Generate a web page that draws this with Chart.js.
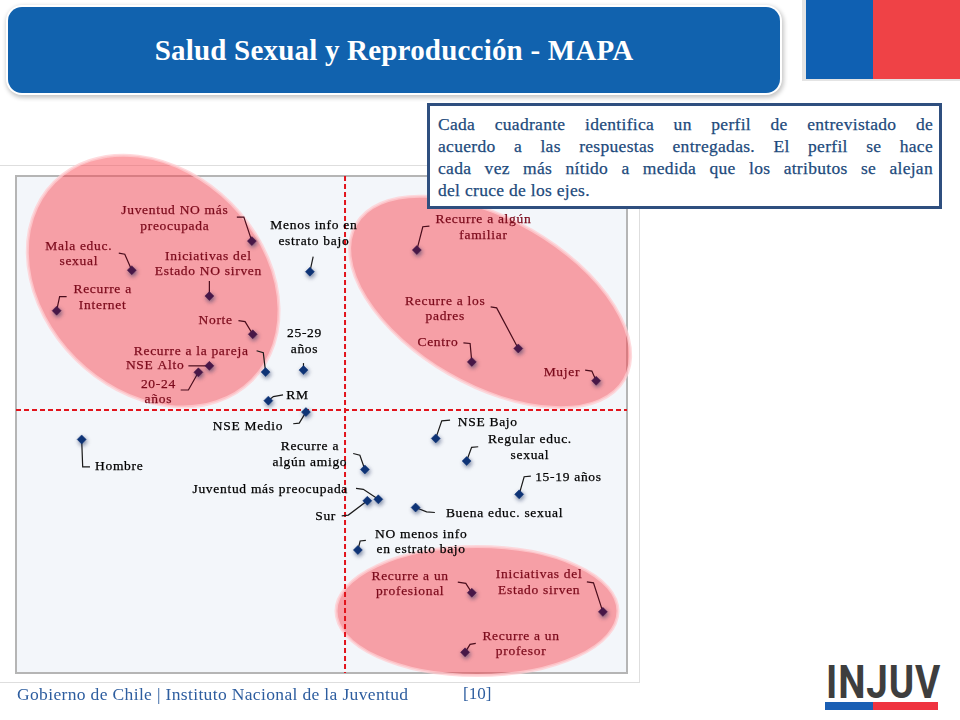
<!DOCTYPE html>
<html>
<head>
<meta charset="utf-8">
<script src="https://cdn.jsdelivr.net/npm/chart.js@4.4.1/dist/chart.umd.min.js"></script>
<style>
  html,body{margin:0;padding:0;background:#fff;width:960px;height:720px;overflow:hidden;position:relative;}
  #header{position:absolute;left:8px;top:7px;width:772px;height:86px;background:#1162ae;border-radius:14px;
    box-shadow:0 0 0 2px #fff, 1px 2px 4px 3px rgba(0,0,0,0.22);}
  #title{position:absolute;left:0;top:0;width:100%;height:100%;display:flex;align-items:center;justify-content:center;
    color:#fff;font-family:"Liberation Serif",serif;font-weight:bold;font-size:29px;letter-spacing:0.2px;}
  #flagGray{position:absolute;left:802px;top:0;width:158px;height:81px;background:#e4e4e4;}
  #flagBlue{position:absolute;left:806px;top:0;width:67px;height:79px;background:#0f60b2;}
  #flagRed{position:absolute;left:873px;top:0;width:87px;height:79px;background:#ef4246;}
  #frame{position:absolute;left:0;top:165px;width:639px;height:516px;border:1px solid #dedede;border-left:none;background:#fff;}
  #wrap{position:absolute;left:0;top:150px;width:640px;height:540px;}
  #note{position:absolute;left:427px;top:103px;width:509px;height:100px;border:3px solid #2f4f7f;background:#fff;
    box-sizing:content-box;z-index:5;}
  #note div{position:absolute;left:8px;width:495px;font-family:"Liberation Serif",serif;font-size:17.5px;color:#1d4a7c;
    text-align:justify;text-align-last:justify;white-space:nowrap;line-height:22px;letter-spacing:0.3px;
    -webkit-text-stroke:0.25px #1d4a7c;}
  #note div.last{text-align-last:left;}
  #footer{position:absolute;left:17px;top:684px;font-family:"Liberation Serif",serif;font-size:17.5px;color:#2d5d9f;letter-spacing:0.35px;}
  #page{position:absolute;left:463px;top:684px;font-family:"Liberation Serif",serif;font-size:17px;color:#2d5d9f;}
  #injuv{position:absolute;left:826px;top:659px;font-family:Roboto,"Liberation Sans",sans-serif;font-weight:bold;
    font-size:46px;color:#3e3e3e;transform:scaleX(0.84);transform-origin:left top;line-height:46px;letter-spacing:1px;}
  #barB{position:absolute;left:825px;top:702px;width:48px;height:8px;background:#1a5fb4;}
  #barR{position:absolute;left:873px;top:702px;width:65px;height:8px;background:#ef3340;}
</style>
</head>
<body>
<div id="header"><div id="title">Salud Sexual y Reproducción - MAPA</div></div>
<div id="flagGray"></div><div id="flagBlue"></div><div id="flagRed"></div>
<div id="frame"></div>
<div id="wrap"><canvas id="c" width="640" height="540"></canvas></div>
<div id="note">
  <div style="top:7px">Cada cuadrante identifica un perfil de entrevistado de</div>
  <div style="top:29px">acuerdo a las respuestas entregadas. El perfil se hace</div>
  <div style="top:51px">cada vez más nítido a medida que los atributos se alejan</div>
  <div class="last" style="top:73px">del cruce de los ejes.</div>
</div>
<div id="footer">Gobierno de Chile | Instituto Nacional de la Juventud</div>
<div id="page">[10]</div>
<div id="injuv">INJUV</div>
<div id="barB"></div><div id="barR"></div>
<script>
const categories = [
  "Juventud NO más\npreocupada",
  "Mala educ.\nsexual",
  "Iniciativas del\nEstado NO sirven",
  "Recurre a\nInternet",
  "Norte",
  "Recurre a la pareja",
  "NSE Alto",
  "20-24\naños",
  "25-29\naños",
  "RM",
  "Menos info en\nestrato bajo",
  "NSE Medio",
  "Hombre",
  "Recurre a algún\nfamiliar",
  "Recurre a los\npadres",
  "Centro",
  "Mujer",
  "NSE Bajo",
  "Regular educ.\nsexual",
  "Recurre a\nalgún amigo",
  "15-19 años",
  "Juventud más preocupada",
  "Sur",
  "Buena educ. sexual",
  "NO menos info\nen estrato bajo",
  "Recurre a un\nprofesional",
  "Iniciativas del\nEstado sirven",
  "Recurre a un\nprofesor"
];
const xValues = [-0.305,-0.698,-0.444,-0.944,-0.302,-0.260,-0.444,-0.480,-0.136,-0.251,-0.115,-0.128,-0.862,
                 0.235,0.567,0.415,0.822,0.297,0.398,0.065,0.570,0.109,0.073,0.231,0.042,0.415,0.844,0.393];
const yValues = [0.680,0.563,0.459,0.400,0.305,0.153,0.178,0.152,0.161,0.038,0.557,-0.008,-0.118,
                 0.644,0.248,0.194,0.118,-0.114,-0.205,-0.239,-0.339,-0.359,-0.365,-0.392,-0.563,-0.735,-0.812,-0.975];
const xRange = [-1.077, 0.923];
const yRange = [-1.058, 0.942];

// ---- label placement (pixel offsets relative to each point) ----
const labelLayout = [
  {dx:-77,dy:-22.5,al:'center',e:[-8,-24],t:[-15,-24]},
  {dx:-53,dy:-16,al:'center',e:[-7,-16],t:[-13,-17]},
  {dx:-1,dy:-32,al:'center',e:[0,-15],t:[0,-15]},
  {dx:46,dy:-13,al:'center',e:[3,-14],t:[10,-14]},
  {dx:-20,dy:-14,al:'right',e:[-7.7,-12.7],t:[-14.3,-13.7]},
  {dx:-17,dy:-21,al:'right',e:[-2.3,-19.3],t:[-9,-21.3]},
  {dx:-25,dy:0,al:'right',e:[-21,0],t:[-21,0]},
  {dx:-40,dy:19.5,al:'center',e:[-10,17.7],t:[-17.7,17.7]},
  {dx:1,dy:-28.5,al:'center',e:[0,-7],t:[0,-7]},
  {dx:18,dy:-5.5,al:'left',e:[5,-4],t:[14.7,-5.7]},
  {dx:4,dy:-38,al:'center',e:[3.3,-15],t:[3.3,-15]},
  {dx:-22.7,dy:14,al:'right',e:[-6.7,11],t:[-12.7,11.7]},
  {dx:13.3,dy:27.4,al:'left',e:[1,27.4],t:[8.3,27.4]},
  {dx:66.6,dy:-22.5,al:'center',e:[6,-23.3],t:[12.6,-24]},
  {dx:-73,dy:-39.5,al:'center',e:[-21.6,-40.6],t:[-27.6,-41.6]},
  {dx:-13.4,dy:-19,al:'right',e:[-1.7,-18.4],t:[-8.4,-19]},
  {dx:-16,dy:-8.7,al:'right',e:[-4.3,-9.7],t:[-11,-10.7]},
  {dx:22,dy:-16.3,al:'left',e:[6,-17.6],t:[14.3,-18.3]},
  {dx:63.3,dy:-13.5,al:'center',e:[5,-13.7],t:[11.6,-14.3]},
  {dx:-55,dy:-15,al:'center',e:[-5,-14.3],t:[-11.7,-16]},
  {dx:16,dy:-17,al:'left',e:[5,-17.6],t:[11.7,-18.3]},
  {dx:-30.3,dy:-10,al:'right',e:[-15,-10],t:[-22.3,-11]},
  {dx:-31.3,dy:15.5,al:'right',e:[-19,14.3],t:[-25.6,15]},
  {dx:30.3,dy:6,al:'left',e:[11,4.4],t:[19.3,5]},
  {dx:63.3,dy:-8,al:'center',e:[2.3,-9],t:[8,-9.7]},
  {dx:-61.7,dy:-9,al:'center',e:[-6,-9.4],t:[-14,-10.7]},
  {dx:-63.7,dy:-29.5,al:'center',e:[-9.4,-29],t:[-16,-30]},
  {dx:56,dy:-8.5,al:'center',e:[5,-8],t:[10.7,-9]}
];
// highlight zones: centre in data units, radii in px, rotation in degrees
const zones = [
  {cx:-0.628, cy:0.519, rx:140, ry:110, rot:45},
  {cx:0.475, cy:0.435, rx:155, ry:83, rot:30},
  {cx:0.432, cy:-0.809, rx:141, ry:64.5, rot:0}
];

function zonePix(chart){
  const {x,y} = chart.scales;
  return zones.map(z => ({cx:x.getPixelForValue(z.cx), cy:y.getPixelForValue(z.cy), rx:z.rx, ry:z.ry, r:z.rot*Math.PI/180}));
}
function inZone(zp, px, py){
  return zp.some(z => {
    const dx = px - z.cx, dy = py - z.cy;
    const c = Math.cos(z.r), s = Math.sin(z.r);
    const u = dx*c + dy*s, v = -dx*s + dy*c;
    return (u*u)/(z.rx*z.rx) + (v*v)/(z.ry*z.ry) <= 1;
  });
}

const mapPlugin = {
  id:'mapPlugin',
  beforeDraw(chart){
    const {ctx, chartArea:a, scales:{x,y}} = chart;
    ctx.save();
    ctx.fillStyle = '#f3f6fa';
    ctx.fillRect(a.left, a.top, a.right-a.left, a.bottom-a.top);
    ctx.strokeStyle = '#b5b5b5';
    ctx.lineWidth = 2;
    ctx.strokeRect(a.left, a.top, a.right-a.left, a.bottom-a.top);
    // highlight zones
    zonePix(chart).forEach(z => {
      ctx.beginPath();
      ctx.ellipse(z.cx, z.cy, z.rx, z.ry, z.r, 0, Math.PI*2);
      ctx.fillStyle = 'rgba(250,72,82,0.5)';
      ctx.fill();
      ctx.strokeStyle = 'rgba(255,205,210,0.75)';
      ctx.lineWidth = 3;
      ctx.stroke();
    });
    // crosshair through the origin
    const x0 = x.getPixelForValue(0), y0 = y.getPixelForValue(0);
    ctx.strokeStyle = '#e2141c';
    ctx.lineWidth = 2;
    ctx.setLineDash([5,3]);
    ctx.beginPath(); ctx.moveTo(x0, a.top); ctx.lineTo(x0, a.bottom); ctx.stroke();
    ctx.beginPath(); ctx.moveTo(a.left, y0); ctx.lineTo(a.right, y0); ctx.stroke();
    ctx.restore();
  },
  beforeDatasetsDraw(chart){
    const {ctx} = chart;
    const meta = chart.getDatasetMeta(0);
    const zp = zonePix(chart);
    ctx.save();
    ctx.font = '13.5px "Liberation Serif"';
    ctx.letterSpacing = '0.7px';
    ctx.textBaseline = 'middle';
    const lh = 15.5;
    meta.data.forEach((pt, i) => {
      const L = labelLayout[i];
      const px = pt.x, py = pt.y;
      ctx.strokeStyle = inZone(zp, px, py) ? '#4a0d1c' : '#1a1a1a';
      ctx.lineWidth = 1.2;
      ctx.beginPath();
      ctx.moveTo(px, py);
      ctx.lineTo(px+L.e[0], py+L.e[1]);
      ctx.lineTo(px+L.t[0], py+L.t[1]);
      ctx.stroke();
      const lines = categories[i].split('\n');
      ctx.textAlign = L.al;
      lines.forEach((s, k) => {
        const yy = py + L.dy + (k - (lines.length-1)/2) * lh;
        const xx = px + L.dx;
        const w = ctx.measureText(s).width;
        const mid = L.al === 'center' ? xx : (L.al === 'right' ? xx - w/2 : xx + w/2);
        const col = inZone(zp, mid, yy) ? '#7c0b1c' : '#000';
        ctx.fillStyle = col;
        ctx.fillText(s, xx, yy);
        ctx.strokeStyle = col;
        ctx.lineWidth = 0.25;
        ctx.strokeText(s, xx, yy);
      });
    });
    ctx.restore();
  },
  beforeDatasetDraw(chart){
    const ctx = chart.ctx;
    ctx.save();
    ctx.shadowColor = 'rgba(10,30,80,0.55)';
    ctx.shadowBlur = 4;
    ctx.shadowOffsetX = 1;
    ctx.shadowOffsetY = 2;
  },
  afterDatasetDraw(chart){
    chart.ctx.restore();
  }
};

const pointColor = (c) => {
  const chart = c.chart;
  if (!chart.chartArea) return '#0f3578';
  const zp = zonePix(chart);
  const px = chart.scales.x.getPixelForValue(xValues[c.dataIndex]);
  const py = chart.scales.y.getPixelForValue(yValues[c.dataIndex]);
  return inZone(zp, px, py) ? '#4b1848' : '#0f3578';
};

new Chart(document.getElementById('c'), {
  type:'scatter',
  data:{
    labels: categories,
    datasets:[{
      data: xValues.map((v,i)=>({x:v, y:yValues[i]})),
      pointStyle:'rectRot',
      pointRadius:4.5,
      pointBackgroundColor: pointColor,
      pointBorderColor: pointColor,
      pointBorderWidth:0.5
    }]
  },
  options:{
    responsive:false,
    animation:false,
    events:[],
    layout:{padding:{left:16,right:13,top:26,bottom:17}},
    plugins:{legend:{display:false}, tooltip:{enabled:false}, title:{display:false}},
    scales:{
      x:{type:'linear', min:xRange[0], max:xRange[1], display:false},
      y:{type:'linear', min:yRange[0], max:yRange[1], display:false}
    }
  },
  plugins:[mapPlugin]
});
</script>
</body>
</html>
